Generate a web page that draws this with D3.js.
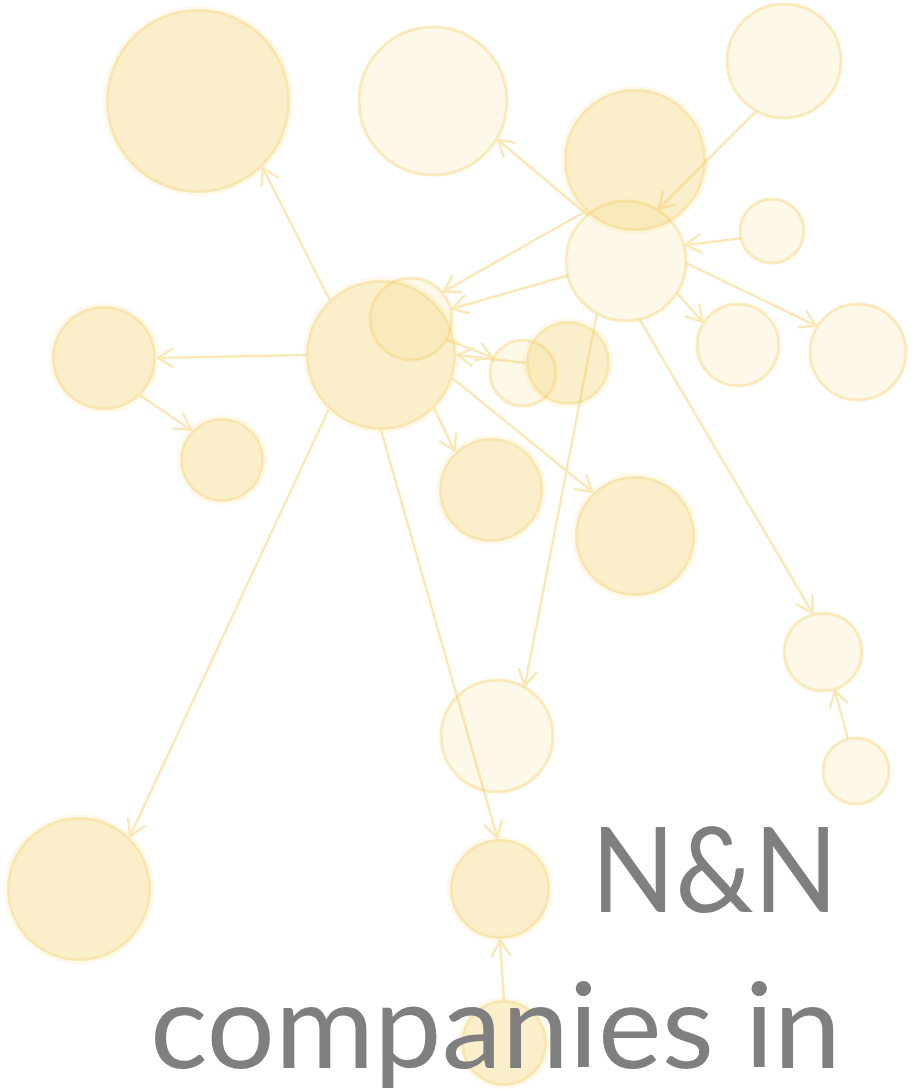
<!DOCTYPE html>
<html lang="en">
<head>
    <meta charset="UTF-8">
    <title>N&amp;N companies network</title>
    <script src="https://d3js.org/d3.v7.min.js"></script>
    <style>
        html, body {
            margin: 0;
            padding: 0;
            background: #fff;
        }
        svg {
            display: block;
        }
        .label {
            font-family: Lato, "Open Sans", sans-serif;
            fill: #7f7f7f;
        }
    </style>
</head>
<body>
<div id="chart"></div>
<script>
    // node data (layout units), tone: 1 = strong, 0 = pale
    const nodeIds   = ["n1", "n2", "n3", "n4", "n5", "n6", "n7", "n8", "n9", "n10", "n11",
                       "n12", "n13", "n14", "n15", "n16", "n17", "n18", "n19", "n20", "n21", "n22"];
    const nodeX     = [198, 433, 784, 635, 626, 772, 381, 411, 523, 568, 104,
                       222, 491, 635, 738, 858, 823, 856, 497, 79, 500, 504];
    const nodeY     = [101, 101, 61, 160, 261, 231, 355, 319, 373, 363, 358,
                       460, 490, 536, 345, 352, 652, 771, 736, 889, 889, 1043];
    const nodeSize  = [92, 74, 57, 71, 60, 32, 75, 41, 33, 42, 52,
                       42, 52, 60, 41, 48, 39, 33, 56, 72, 50, 43];
    const nodeTone  = [1, 0, 0, 1, 0, 0, 1, 0, 0, 1, 1,
                       1, 1, 1, 0, 0, 0, 0, 0, 1, 1, 1];

    // directed links, with the rim angle (degrees) where each one leaves / arrives
    const linkSource = ["n7", "n7", "n11", "n7", "n7", "n7", "n7", "n8", "n10", "n5", "n4",
                        "n5", "n3", "n6", "n5", "n5", "n5", "n5", "n18", "n22"];
    const linkTarget = ["n1", "n11", "n12", "n20", "n21", "n13", "n14", "n9", "n7", "n8", "n8",
                        "n2", "n5", "n5", "n15", "n16", "n19", "n17", "n17", "n21"];
    const linkOut    = [-133, 180, 46, 134, 90, 45, 18, 30, 180, 166, 134,
                        -130, 119, 167, 32, 2, 119, 77, -104, -90];
    const linkIn     = [46, 0, -136, -46, -93, -133, -134, -153, 0, -14, -40,
                        31, -58, -15, -147, -148, -61, -105, 73, 90];

    const labelLines = ["N&N", "companies in"];

    const width = 914, height = 1090;

    const x = d3.scaleLinear().domain([0, 914]).range([0, width]);
    const y = d3.scaleLinear().domain([0, 1090]).range([0, height]);
    const r = d3.scaleLinear().domain([0, 100]).range([0, 100]);

    const nodes = nodeIds.map((id, i) => ({
        id: id, x: nodeX[i], y: nodeY[i], size: nodeSize[i], tone: nodeTone[i]
    }));
    const byId = new Map(nodes.map(d => [d.id, d]));
    const links = linkSource.map((s, i) => ({
        source: byId.get(s), target: byId.get(linkTarget[i]), out: linkOut[i], in: linkIn[i]
    }));

    const svg = d3.select("#chart")
        .append("svg")
        .attr("width", width)
        .attr("height", height);

    const lineColor = "#fae8b8";

    svg.append("defs").append("marker")
        .attr("id", "arrow")
        .attr("markerUnits", "userSpaceOnUse")
        .attr("viewBox", "-18 -11 20 22")
        .attr("refX", 0)
        .attr("refY", 0)
        .attr("markerWidth", 20)
        .attr("markerHeight", 22)
        .attr("orient", "auto")
        .append("path")
        .attr("d", "M-15,-9L0,0L-15,9")
        .attr("fill", "none")
        .attr("stroke", lineColor)
        .attr("stroke-width", 2.5)
        .attr("stroke-linecap", "round")
        .attr("stroke-linejoin", "round");

    function rimPoint(n, deg, pad) {
        const a = deg * Math.PI / 180;
        const rr = r(n.size) + pad;
        return [x(n.x) + rr * Math.cos(a), y(n.y) + rr * Math.sin(a)];
    }

    svg.append("g")
        .selectAll("line")
        .data(links)
        .enter().append("line")
        .attr("x1", d => rimPoint(d.source, d.out, 0)[0])
        .attr("y1", d => rimPoint(d.source, d.out, 0)[1])
        .attr("x2", d => rimPoint(d.target, d.in, 1.5)[0])
        .attr("y2", d => rimPoint(d.target, d.in, 1.5)[1])
        .attr("stroke", lineColor)
        .attr("stroke-width", 2.5)
        .attr("marker-end", "url(#arrow)");

    const node = svg.append("g")
        .selectAll("g")
        .data(nodes)
        .enter().append("g");

    node.append("circle")
        .attr("cx", d => x(d.x))
        .attr("cy", d => y(d.y))
        .attr("r", d => r(d.size))
        .attr("fill", d => d.tone ? "rgba(244,206,98,0.33)" : "rgba(244,206,98,0.15)")
        .attr("stroke", d => d.tone ? "rgba(244,206,98,0.13)" : "rgba(244,206,98,0.38)")
        .attr("stroke-width", d => d.tone ? 6 : 3);

    // inner rim on strong nodes
    node.filter(d => d.tone)
        .append("circle")
        .attr("cx", d => x(d.x))
        .attr("cy", d => y(d.y))
        .attr("r", d => r(d.size) - 1.5)
        .attr("fill", "none")
        .attr("stroke", "rgba(244,206,98,0.16)")
        .attr("stroke-width", 2.5);

    // label lines, stretched to the width they take in the original
    const labelLeft  = [591, 150];
    const labelWidth = [247, 691];

    svg.append("g")
        .selectAll("text")
        .data(labelLines)
        .enter().append("text")
        .attr("class", "label")
        .attr("x", (d, i) => x(labelLeft[i]))
        .attr("y", (d, i) => y(912 + i * 156))
        .attr("textLength", (d, i) => labelWidth[i])
        .attr("lengthAdjust", "spacingAndGlyphs")
        .attr("font-size", 118)
        .text(d => d);
</script>
</body>
</html>
